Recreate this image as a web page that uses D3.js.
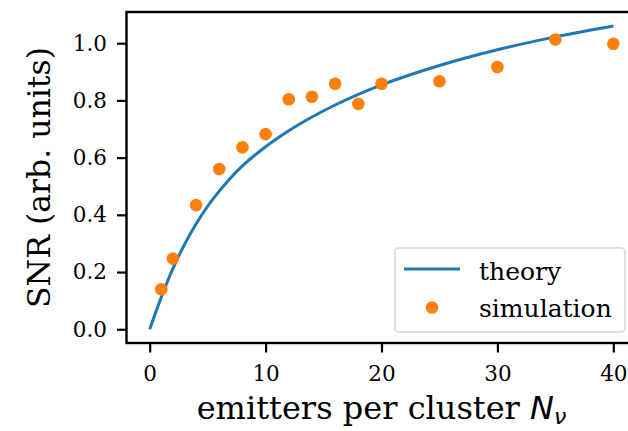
<!DOCTYPE html>
<html><head><meta charset="utf-8">
<script src="https://cdn.jsdelivr.net/npm/d3@7"></script>
<style>body{margin:0;background:#fff}svg{display:block}</style>
</head><body>
<svg id="chart" width="628" height="431"></svg>
<script>
// Data
const theoryN   = [0, 1, 2, 3, 4, 5, 6, 7, 8, 10, 12, 14, 16, 18, 20, 25, 30, 35, 40];
const theorySNR = [0, 0.112, 0.212, 0.296, 0.368, 0.430, 0.483, 0.530, 0.571, 0.638, 0.694, 0.742, 0.784, 0.821, 0.854, 0.922, 0.977, 1.022, 1.060];
const simN   = [1, 2, 4, 6, 8, 10, 12, 14, 16, 18, 20, 25, 30, 35, 40];
const simSNR = [0.140, 0.247, 0.434, 0.560, 0.636, 0.682, 0.804, 0.813, 0.858, 0.788, 0.858, 0.867, 0.917, 1.013, 0.998];
const xTicks = [0, 10, 20, 30, 40];
const yTicks = [0.0, 0.2, 0.4, 0.6, 0.8, 1.0];
const seriesNames = ["theory", "simulation"];

const svg = d3.select("#chart");
const L = 126.5, R = 636.5, T = 12, B = 343;
const x = d3.scaleLinear().domain([-2, 42]).range([L, R]);
const y = d3.scaleLinear().domain([-0.048, 1.109]).range([B, T]);
const serif = "'DejaVu Serif', serif";
const blue = "#1f77b4", orange = "#ff7f0e";

// theory line
svg.append("path")
  .datum(theoryN.map((n, i) => [n, theorySNR[i]]))
  .attr("fill", "none").attr("stroke", blue).attr("stroke-width", 3)
  .attr("d", d3.line().x(d => x(d[0])).y(d => y(d[1])).curve(d3.curveMonotoneX));

// simulation points
svg.append("g").selectAll("circle")
  .data(simN.map((n, i) => [n, simSNR[i]]))
  .join("circle")
  .attr("cx", d => x(d[0])).attr("cy", d => y(d[1])).attr("r", 6.3)
  .attr("fill", orange);

// axes
const xAxis = d3.axisBottom(x).tickValues(xTicks).tickFormat(d3.format("d")).tickSizeOuter(0).tickSize(9.5).tickPadding(13);
const yAxis = d3.axisLeft(y).tickValues(yTicks).tickFormat(d3.format(".1f")).tickSizeOuter(0).tickSize(9.5).tickPadding(10);
const gx = svg.append("g").attr("transform", `translate(0,${B})`).call(xAxis);
const gy = svg.append("g").attr("transform", `translate(${L},0)`).call(yAxis);
[gx, gy].forEach(g => {
  g.select(".domain").remove();
  g.selectAll("line").attr("stroke", "#000").attr("stroke-width", 2.2);
  g.selectAll("text").attr("fill", "#000").style("font-family", serif).style("font-size", "21.5px");
});

// spines
svg.append("rect").attr("x", L).attr("y", T).attr("width", R - L).attr("height", B - T)
  .attr("fill", "none").attr("stroke", "#000").attr("stroke-width", 2.4);

// axis labels
const xl = svg.append("text").attr("x", (L + R) / 2).attr("y", 419).attr("text-anchor", "middle")
  .style("font-family", serif).style("font-size", "32px").attr("fill", "#000");
xl.append("tspan").text("emitters per cluster ");
xl.append("tspan").text("N").style("font-family", "'DejaVu Sans', sans-serif").style("font-style", "italic");
xl.append("tspan").text("ν").attr("dy", 5).style("font-size", "22px").style("font-family", "'DejaVu Sans', sans-serif").style("font-style", "italic");

svg.append("text").attr("transform", `translate(50,${(T + B) / 2}) rotate(-90)`)
  .attr("text-anchor", "middle").style("font-family", serif).style("font-size", "31.5px").attr("fill", "#000")
  .text("SNR (arb. units)");

// legend
const lg = svg.append("g");
lg.append("rect").attr("x", 395).attr("y", 248).attr("width", 230).attr("height", 84).attr("rx", 4)
  .attr("fill", "#fff").attr("fill-opacity", 0.8).attr("stroke", "#d6d6d6").attr("stroke-width", 1.5);
lg.append("line").attr("x1", 404).attr("x2", 460).attr("y1", 269).attr("y2", 269).attr("stroke", blue).attr("stroke-width", 3);
lg.append("circle").attr("cx", 432).attr("cy", 307.5).attr("r", 6.3).attr("fill", orange);
lg.selectAll("text.lbl").data(seriesNames).join("text").attr("class", "lbl")
  .attr("x", 479).attr("y", (d, i) => 280 + i * 37)
  .style("font-family", serif).style("font-size", "25px").attr("fill", "#000").text(d => d);
</script>
</body></html>
